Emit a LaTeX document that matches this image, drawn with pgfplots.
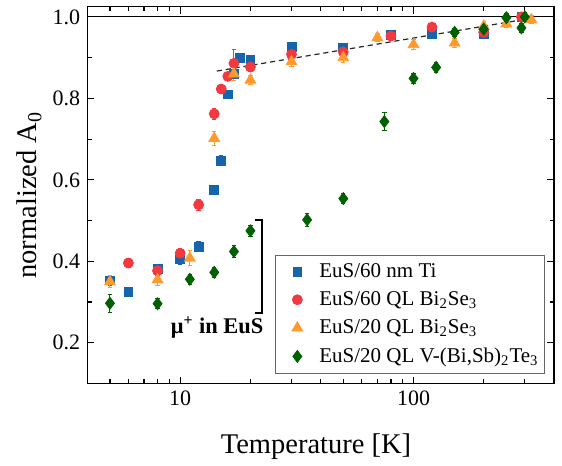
\documentclass[border=0pt]{standalone}
\usepackage{fontspec}
\setmainfont{Liberation Serif}
\usepackage{pgfplots}
\usepackage{pgfplotstable}
\pgfplotsset{compat=1.18}

\definecolor{cblue}{RGB}{22,100,172}
\definecolor{cred}{RGB}{240,58,64}
\definecolor{corange}{RGB}{255,154,46}
\definecolor{cgreen}{RGB}{0,96,0}

\pgfplotsset{myleg/.style={legend image code/.code={%
    \pgfpathmoveto{\pgfpoint{0pt}{0pt}}\pgfpathlineto{\pgfpoint{19pt}{0pt}}\pgfusepath{}%
    \draw[##1] plot coordinates {(9.5pt,0pt)};}}}

\pgfplotstableread{
x y e
5 0.353 0.012
6 0.325 0.010
8 0.381 0.010
10 0.405 0.012
12 0.436 0.012
14 0.575 0.012
15 0.647 0.012
16 0.810 0.010
17 0.861 0.010
18 0.900 0.010
20 0.894 0.010
30 0.926 0.010
50 0.925 0.010
80 0.955 0.010
120 0.958 0.010
200 0.959 0.010
290 1.000 0.010
}\tblue

\pgfplotstableread{
x y e
6 0.396 0.012
8 0.377 0.012
10 0.420 0.012
12 0.539 0.014
14 0.762 0.014
15 0.823 0.012
16 0.854 0.010
17 0.886 0.033
20 0.877 0.012
30 0.908 0.010
50 0.914 0.010
80 0.953 0.010
120 0.975 0.010
200 0.962 0.010
290 1.000 0.010
}\tred

\pgfplotstableread{
x y e
5 0.350 0.015
8 0.355 0.015
11 0.408 0.018
14 0.702 0.018
17 0.860 0.015
20 0.845 0.012
30 0.890 0.012
50 0.900 0.012
70 0.949 0.010
100 0.932 0.012
150 0.936 0.012
200 0.977 0.012
250 0.983 0.010
320 0.993 0.010
}\torange

\pgfplotstableread{
x y e
5 0.297 0.022
8 0.296 0.012
11 0.356 0.012
14 0.373 0.012
17 0.424 0.014
20 0.475 0.014
35 0.502 0.016
50 0.554 0.012
75 0.743 0.022
100 0.849 0.012
125 0.876 0.012
150 0.962 0.010
200 0.970 0.010
250 0.998 0.010
290 0.973 0.010
300 1.000 0.010
}\tgreen

\begin{document}
\begin{tikzpicture}
\begin{axis}[
  scale only axis,
  width=233.3pt, height=188.4pt,
  xmode=log,
  xmin=4, xmax=400,
  ymin=0.1, ymax=1.025,
  xtick={10,100},
  xticklabels={10,100},
  minor xtick={5,6,7,8,9,20,30,40,50,60,70,80,90,200,300},
  ytick={0.2,0.4,0.6,0.8,1.0},
  minor ytick={0.3,0.5,0.7,0.9},
  yticklabel style={/pgf/number format/.cd, fixed, fixed zerofill, precision=1},
  /pgf/number format/assume math mode=true,
  tick align=inside,
  major tick length=3.4pt,
  minor tick length=2.1pt,
  tick style={black, line width=0.6pt},
  axis line style={line width=0.7pt},
  ticklabel style={font=\fontsize{11}{13}\selectfont},
  xlabel={Temperature [K]},
  ylabel={normalized A\textsubscript{0}},
  label style={font=\fontsize{14.25}{16}\selectfont},
  xlabel style={at={(axis description cs:0.49,0)}, anchor=base, yshift=-34.75pt},
  ylabel style={at={(axis description cs:-0.1243,0.5)}, anchor=center},
  legend style={draw=black!60, line width=0.4pt,
    font=\fontsize{10.5}{12.5}\selectfont,
    at={(rel axis cs:1,0)}, anchor=south east, xshift=-4.5pt, yshift=5pt,
    row sep=1.6pt, inner ysep=2pt, inner xsep=1.5pt,
    nodes={inner xsep=1.5pt}},
  legend cell align=left,
  error bars/error bar style={line width=0.45pt},
  error bars/error mark options={rotate=90, mark size=1.1pt, line width=0.45pt},
]
\addplot[black, line width=0.5pt, forget plot] coordinates {(4,1) (400,1)};
\addplot[black!85, line width=0.6pt, dash pattern=on 2.6pt off 1.9pt, forget plot]
  coordinates {(14.35,0.867) (330,0.998)};

\addplot[only marks, myleg, mark=square*, mark size=2.2pt, color=cblue,
  mark options={fill=cblue, draw=cblue},
  error bars/.cd, y dir=both, y explicit]
  table[x=x, y=y, y error=e] {\tblue};
\addlegendentry{EuS/60 nm Ti}

\addplot[only marks, myleg, mark=*, mark size=2.5pt, color=cred,
  mark options={fill=cred, draw=cred},
  error bars/.cd, y dir=both, y explicit]
  table[x=x, y=y, y error=e] {\tred};
\addlegendentry{EuS/60 QL Bi\textsubscript{2}Se\textsubscript{3}}

\addplot[only marks, myleg, mark=triangle*, mark size=3.1pt, color=corange,
  mark options={fill=corange, draw=corange},
  error bars/.cd, y dir=both, y explicit]
  table[x=x, y=y, y error=e] {\torange};
\addlegendentry{EuS/20 QL Bi\textsubscript{2}Se\textsubscript{3}}

\addplot[only marks, myleg, mark=diamond*, mark size=3.0pt, color=cgreen,
  mark options={fill=cgreen, draw=cgreen},
  error bars/.cd, y dir=both, y explicit]
  table[x=x, y=y, y error=e] {\tgreen};
\addlegendentry{EuS/20 QL V-(Bi,Sb)\textsubscript{2}Te\textsubscript{3}}

\addplot[black, line width=1pt, forget plot]
  coordinates {(20.9,0.502) (22.5,0.502) (22.5,0.273) (20.9,0.273)};
\node[anchor=east, font=\fontsize{11.2}{13}\selectfont\bfseries, inner sep=0pt]
  at (axis cs:22.8,0.237) {μ\textsuperscript{+} in EuS};
\end{axis}
\path ([xshift=-43.65pt,yshift=-40.25pt]current axis.south west)
  rectangle ([xshift=4pt,yshift=3.35pt]current axis.north east);
\end{tikzpicture}
\end{document}
